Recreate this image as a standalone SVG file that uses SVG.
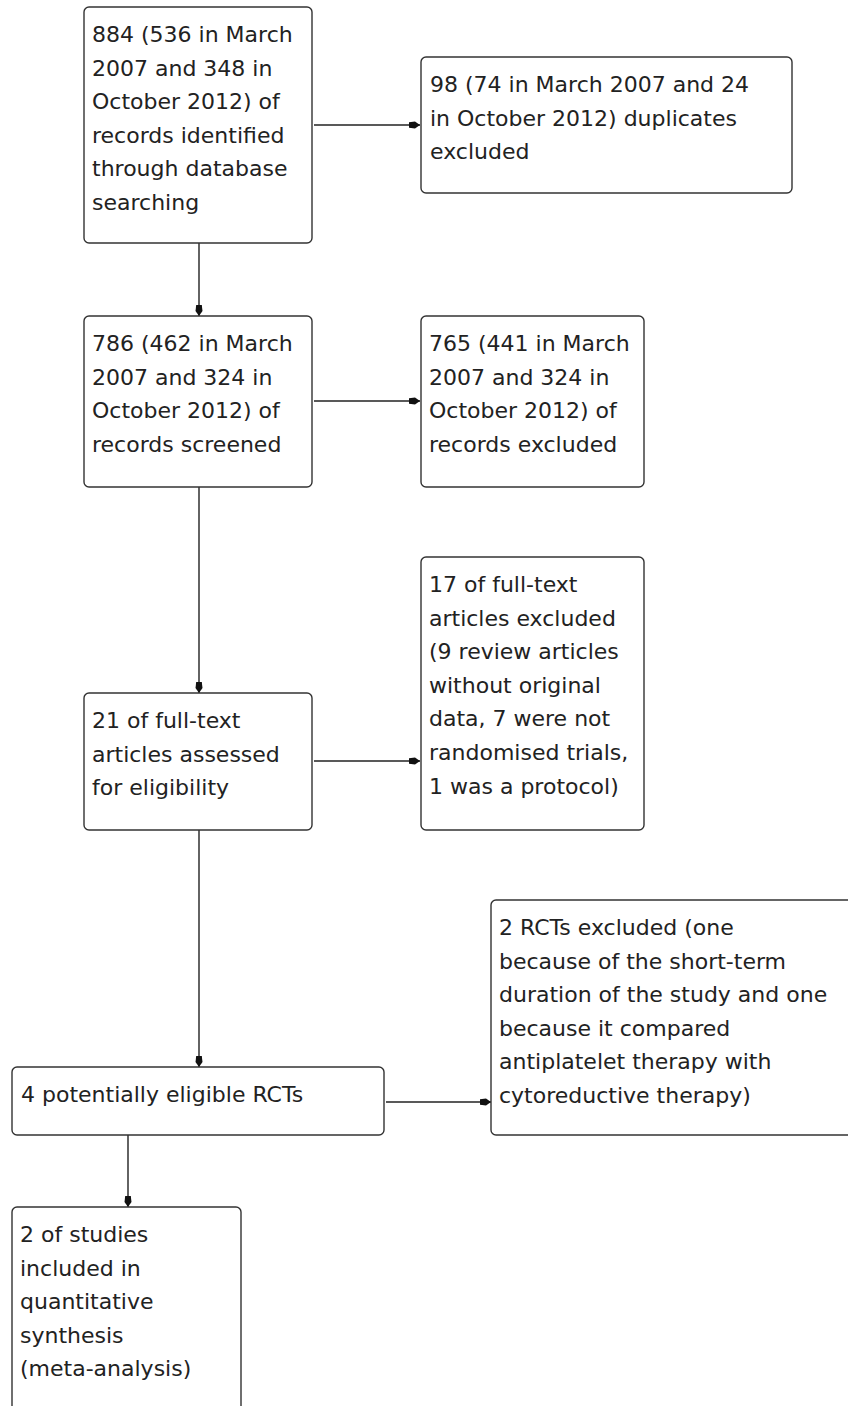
<svg xmlns="http://www.w3.org/2000/svg" width="848" height="1406" viewBox="0 0 848 1406">
<style>
.box{fill:#ffffff;stroke:#333333;stroke-width:1.4}
.t{font-family:"DejaVu Sans",sans-serif;font-size:22px;fill:#222222}
.c{stroke:#222222;stroke-width:1.4;fill:none}
</style>
<defs>
<marker id="ah" markerUnits="userSpaceOnUse" markerWidth="12" markerHeight="8" refX="11" refY="4" orient="auto">
<path d="M0,1.2 L6,0.5 L11,4 L6,7.5 L0,6.8 z" fill="#111111"/>
</marker>
</defs>
<rect width="848" height="1406" fill="#ffffff"/>
<g id="connectors">
<line class="c" x1="314" y1="125" x2="420" y2="125" marker-end="url(#ah)"/>
<line class="c" x1="199" y1="243" x2="199" y2="316" marker-end="url(#ah)"/>
<line class="c" x1="314" y1="401" x2="420" y2="401" marker-end="url(#ah)"/>
<line class="c" x1="199" y1="487" x2="199" y2="693" marker-end="url(#ah)"/>
<line class="c" x1="314" y1="761" x2="420" y2="761" marker-end="url(#ah)"/>
<line class="c" x1="199" y1="830" x2="199" y2="1067" marker-end="url(#ah)"/>
<line class="c" x1="386" y1="1102" x2="491" y2="1102" marker-end="url(#ah)"/>
<line class="c" x1="128" y1="1135" x2="128" y2="1207" marker-end="url(#ah)"/>
</g>
<g id="nodeA">
<rect class="box" x="84" y="7" width="228" height="236" rx="5"/>
<text class="t" x="92" y="42">884 (536 in March</text>
<text class="t" x="92" y="75.6">2007 and 348 in</text>
<text class="t" x="92" y="109.2">October 2012) of</text>
<text class="t" x="92" y="142.8">records identified</text>
<text class="t" x="92" y="176.4">through database</text>
<text class="t" x="92" y="210">searching</text>
</g>
<g id="nodeB">
<rect class="box" x="421" y="57" width="371" height="136" rx="5"/>
<text class="t" x="430" y="92">98 (74 in March 2007 and 24</text>
<text class="t" x="430" y="125.6">in October 2012) duplicates</text>
<text class="t" x="430" y="159.2">excluded</text>
</g>
<g id="nodeC">
<rect class="box" x="84" y="316" width="228" height="171" rx="5"/>
<text class="t" x="92" y="351">786 (462 in March</text>
<text class="t" x="92" y="384.6">2007 and 324 in</text>
<text class="t" x="92" y="418.2">October 2012) of</text>
<text class="t" x="92" y="451.8">records screened</text>
</g>
<g id="nodeD">
<rect class="box" x="421" y="316" width="223" height="171" rx="5"/>
<text class="t" x="429" y="351">765 (441 in March</text>
<text class="t" x="429" y="384.6">2007 and 324 in</text>
<text class="t" x="429" y="418.2">October 2012) of</text>
<text class="t" x="429" y="451.8">records excluded</text>
</g>
<g id="nodeE">
<rect class="box" x="421" y="557" width="223" height="273" rx="5"/>
<text class="t" x="429" y="592">17 of full-text</text>
<text class="t" x="429" y="625.6">articles excluded</text>
<text class="t" x="429" y="659.2">(9 review articles</text>
<text class="t" x="429" y="692.8">without original</text>
<text class="t" x="429" y="726.4">data, 7 were not</text>
<text class="t" x="429" y="760">randomised trials,</text>
<text class="t" x="429" y="793.6">1 was a protocol)</text>
</g>
<g id="nodeF">
<rect class="box" x="84" y="693" width="228" height="137" rx="5"/>
<text class="t" x="92" y="728">21 of full-text</text>
<text class="t" x="92" y="761.6">articles assessed</text>
<text class="t" x="92" y="795.2">for eligibility</text>
</g>
<g id="nodeG">
<rect class="box" x="491" y="900" width="370" height="235" rx="5"/>
<text class="t" x="499" y="935">2 RCTs excluded (one</text>
<text class="t" x="499" y="968.6">because of the short-term</text>
<text class="t" x="499" y="1002.2">duration of the study and one</text>
<text class="t" x="499" y="1035.8">because it compared</text>
<text class="t" x="499" y="1069.4">antiplatelet therapy with</text>
<text class="t" x="499" y="1103">cytoreductive therapy)</text>
</g>
<g id="nodeH">
<rect class="box" x="12" y="1067" width="372" height="68" rx="5"/>
<text class="t" x="21" y="1102">4 potentially eligible RCTs</text>
</g>
<g id="nodeI">
<rect class="box" x="12" y="1207" width="229" height="230" rx="5"/>
<text class="t" x="20" y="1242">2 of studies</text>
<text class="t" x="20" y="1275.6">included in</text>
<text class="t" x="20" y="1309.2">quantitative</text>
<text class="t" x="20" y="1342.8">synthesis</text>
<text class="t" x="20" y="1376.4">(meta-analysis)</text>
</g>
</svg>
